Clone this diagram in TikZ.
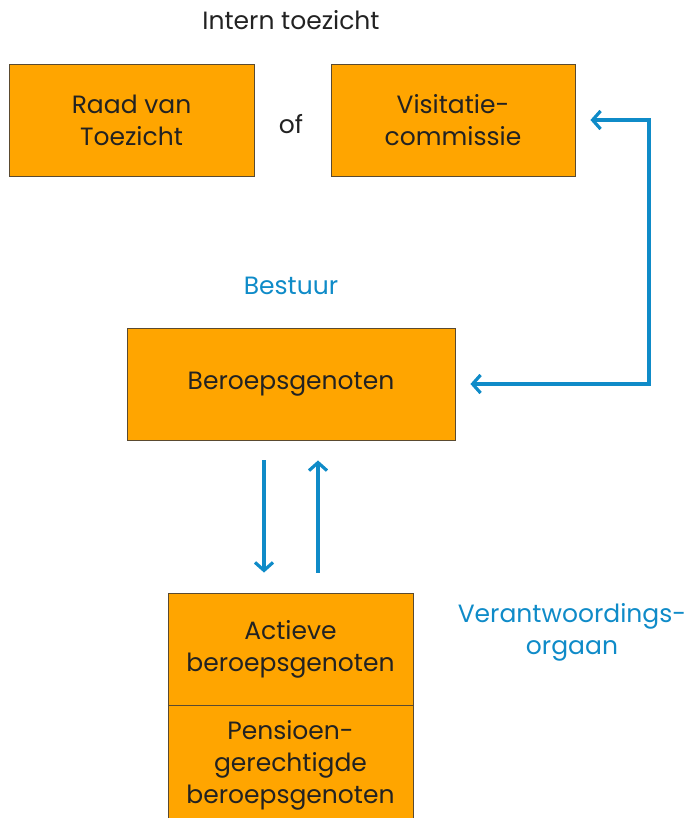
\documentclass[tikz,border=0pt]{standalone}
\usepackage{fontspec}
\setmainfont{Poppins}
\usetikzlibrary{arrows.meta}
\definecolor{boxorange}{HTML}{FFA500}
\definecolor{boxedge}{HTML}{5A4A30}
\definecolor{linkblue}{HTML}{0F8BC8}
\definecolor{txt}{HTML}{222222}
\tikzset{
  orgbox/.style={draw=boxedge, line width=0.9pt, fill=boxorange, align=center, text=txt,
    font=\fontsize{25}{32}\selectfont, inner sep=0pt},
  bluetext/.style={text=linkblue, align=center, font=\fontsize{25}{32}\selectfont, yshift=-3pt},
  plaintext/.style={text=txt, align=center, font=\fontsize{25}{32}\selectfont, yshift=-2pt},
  barb/.tip={Straight Barb[length=8pt,width=18pt,line width=3.2pt]},
  link/.style={draw=linkblue, line width=3.2pt, -barb}
}
\begin{document}
\begin{tikzpicture}[x=1pt,y=-1pt]
\useasboundingbox (0,0) rectangle (688,818);
\node[plaintext] (intern) at (291,18) {Intern toezicht};
\node[orgbox, minimum width=245pt, minimum height=112pt] (raad) at (131.5,120) {Raad van\\Toezicht};
\node[plaintext] (of) at (291,122) {of};
\node[orgbox, minimum width=244pt, minimum height=112pt] (vis) at (453,120) {Visitatie-\\commissie};
\node[bluetext] (bestuur) at (291,283) {Bestuur};
\node[orgbox, minimum width=328pt, minimum height=112pt] (ber) at (291,384) {Beroepsgenoten};
\node[orgbox, minimum width=245pt, minimum height=112pt] (act) at (290.5,649) {Actieve\\beroepsgenoten};
\node[orgbox, minimum width=245pt, minimum height=118pt, anchor=north] (pens) at (act.south) {Pensioen-\\gerechtigde\\beroepsgenoten};
\node[bluetext] (verant) at (572,629) {Verantwoordings-\\orgaan};
\coordinate (turn) at (649,120);
\draw[link, barb-barb] ([xshift=15pt]vis.east) -- (turn) |- ([xshift=15pt]ber.east);
\draw[link] ([xshift=-27pt,yshift=-20pt]ber.south) -- ([xshift=-26.5pt,yshift=20pt]act.north);
\draw[link] ([xshift=27.5pt,yshift=20pt]act.north) -- ([xshift=27pt,yshift=-20pt]ber.south);
\end{tikzpicture}
\end{document}
